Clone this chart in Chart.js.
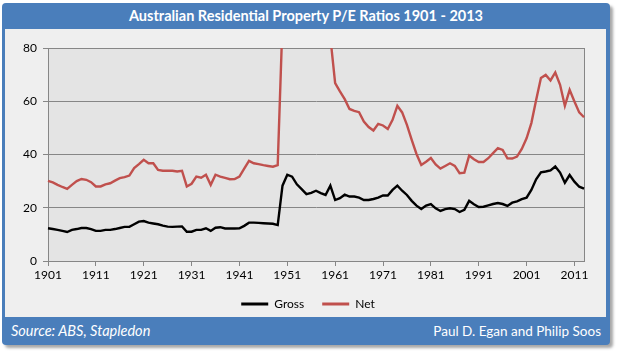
<!DOCTYPE html>
<html>
<head>
<meta charset="utf-8">
<script src="https://cdn.jsdelivr.net/npm/chart.js@4.4.0/dist/chart.umd.min.js"></script>
<style>
  html, body { margin: 0; padding: 0; background: #fff; }
  body { width: 617px; height: 352px; position: relative; overflow: hidden; font-family: Lato, sans-serif; }
  #frame { position: absolute; left: 2px; top: 3px; width: 608px; height: 342px; background: #4a7ebb; border-radius: 4px; box-shadow: 3px 3px 3px rgba(0,0,0,0.35); }
  #panel { position: absolute; left: 5px; top: 29px; width: 601px; height: 288px; background: #efefef; }
  #title { position: absolute; left: 2px; top: 3px; width: 608px; height: 26px; line-height: 26px; text-align: center; color: #fff; font-weight: bold; font-size: 14.5px; }
  #source { position: absolute; left: 11px; top: 318px; height: 26px; line-height: 26px; color: #fff; font-style: italic; font-size: 14.5px; }
  #credit { position: absolute; right: 16px; top: 318px; height: 26px; line-height: 26px; color: #fff; font-size: 13.5px; }
  canvas { position: absolute; left: 0; top: 0; }
</style>
</head>
<body>
<div id="frame"></div>
<div id="panel"></div>
<div id="title">Australian Residential Property P/E Ratios 1901 - 2013</div>
<div id="source">Source: ABS, Stapledon</div>
<div id="credit">Paul D. Egan and Philip Soos</div>
<canvas id="myChart" width="617" height="352"></canvas>
<script>
const firstYear = 1901;
const xTickLabels = ["1901", "1911", "1921", "1931", "1941", "1951", "1961", "1971", "1981", "1991", "2001", "2011"];
const yTicks = [0, 20, 40, 60, 80];

// gross P/E, 1901 - 2013
const gross = [
  12.3, 12.0, 11.7, 11.3, 10.9, 11.7, 12.0, 12.4, 12.4, 12.0,
  11.3, 11.3, 11.7, 11.7, 12.0, 12.4, 12.8, 12.8, 13.8, 14.8,
  15.0, 14.4, 14.1, 13.8, 13.3, 12.9, 12.8, 12.9, 13.0, 11.0,
  11.0, 11.7, 11.7, 12.3, 11.3, 12.5, 12.7, 12.2, 12.2, 12.2,
  12.3, 13.2, 14.4, 14.4, 14.3, 14.2, 14.1, 14.0, 13.5, 28.3,
  32.4, 31.7, 28.8, 27.0, 25.1, 25.6, 26.4, 25.5, 24.8, 28.3,
  22.9, 23.6, 24.9, 24.2, 24.2, 23.8, 22.9, 22.9, 23.3, 23.8,
  24.6, 24.6, 26.7, 28.3, 26.4, 24.8, 22.6, 20.8, 19.5, 20.8,
  21.4, 19.8, 18.8, 19.5, 19.8, 19.5, 18.4, 19.2, 22.6, 21.3,
  20.3, 20.4, 20.9, 21.4, 21.8, 21.4, 20.7, 21.9, 22.4, 23.2,
  23.8, 26.7, 30.7, 33.3, 33.6, 34.0, 35.5, 33.2, 29.4, 32.3,
  29.8, 27.9, 27.2
];

// net P/E, off the top of the chart in the 1950s
const net = [
  30.1, 29.5, 28.6, 27.8, 27.1, 28.6, 30.0, 30.8, 30.5, 29.6,
  28.0, 28.0, 28.8, 29.2, 30.2, 31.1, 31.5, 32.1, 34.9, 36.4,
  38.0, 36.7, 36.7, 34.2, 33.9, 33.9, 33.9, 33.6, 33.9, 28.0,
  29.0, 31.7, 31.3, 32.4, 28.6, 32.4, 31.7, 31.2, 30.7, 30.8,
  31.7, 34.7, 37.6, 36.7, 36.4, 36.0, 35.7, 35.4, 36.0, 90,
  null, null, null, null, null, null, null, null, null, 84,
  66.8, 63.7, 60.8, 57.1, 56.4, 55.9, 52.4, 50.3, 49.0, 51.5,
  50.9, 49.6, 53.0, 58.3, 55.8, 51.1, 45.5, 40.2, 36.1, 37.3,
  38.7, 36.3, 34.7, 35.7, 36.7, 35.7, 33.0, 33.2, 39.6, 38.2,
  37.2, 37.2, 38.6, 40.5, 42.4, 41.7, 38.6, 38.5, 39.2, 42.1,
  46.1, 51.8, 60.5, 68.7, 69.9, 67.8, 70.8, 66.2, 58.3, 64.3,
  59.9, 55.8, 54.0
];

const years = gross.map((v, i) => String(firstYear + i));

const plotBg = {
  id: "plotBg",
  afterLayout(chart) {
    // centre the legend under the whole panel, not just the padded box
    chart.legend.left += 16;
    chart.legend.right += 16;
  },
  beforeDraw(chart) {
    const { ctx, chartArea: a } = chart;
    ctx.save();
    ctx.fillStyle = "#e4e4e4";
    ctx.fillRect(a.left, a.top, a.right - a.left, a.bottom - a.top);
    ctx.restore();
  },
  beforeDatasetsDraw(chart) {
    const { ctx, chartArea: a } = chart;
    ctx.save();
    ctx.strokeStyle = "#868686";
    ctx.lineWidth = 1;
    ctx.strokeRect(Math.round(a.left) + 0.5, Math.round(a.top) + 0.5, Math.round(a.right - a.left), Math.round(a.bottom - a.top));
    ctx.restore();
  }
};

const ctx = document.getElementById("myChart");
new Chart(ctx, {
  type: "line",
  data: {
    labels: years,
    datasets: [
      {
        label: "Gross",
        data: gross,
        borderColor: "#000000",
        backgroundColor: "#000000",
        borderWidth: 2.4,
        pointRadius: 0,
        tension: 0,
      },
      {
        label: "Net",
        data: net,
        borderColor: "#c0504d",
        backgroundColor: "#c0504d",
        borderWidth: 2.4,
        pointRadius: 0,
        tension: 0,
        spanGaps: true,
      },
    ],
  },
  options: {
    responsive: false,
    animation: false,
    layout: { padding: { left: 0, right: 33, top: 48, bottom: 32 } },
    scales: {
      x: {
        ticks: {
          autoSkip: false,
          maxRotation: 0,
          padding: 2,
          color: "#000",
          font: { family: "Lato", size: 12 },
          callback: (v, i) => (xTickLabels.includes(years[i]) ? years[i] : null),
        },
        grid: { drawOnChartArea: false, drawTicks: true, tickLength: 5, color: "#868686" },
        border: { color: "#868686" },
        afterFit: (s) => { s.height = 19; },
      },
      y: {
        min: 0,
        max: 80,
        afterBuildTicks: (s) => { s.ticks = yTicks.map((v) => ({ value: v })); },
        ticks: { padding: 6, color: "#000", font: { family: "Lato", size: 12 } },
        grid: { color: "#868686", tickLength: 5 },
        border: { color: "#868686" },
        afterFit: (s) => { s.width = 48; },
      },
    },
    plugins: {
      legend: {
        position: "bottom",
        labels: {
          boxWidth: 27,
          boxHeight: 3,
          padding: 18,
          color: "#000",
          font: { family: "Lato", size: 12 },
          generateLabels: (chart) =>
            Chart.defaults.plugins.legend.labels.generateLabels(chart).map((l) => ({ ...l, lineWidth: 0 })),
        },
      },
      tooltip: { enabled: false },
    },
  },
  plugins: [plotBg],
});
</script>
</body>
</html>
